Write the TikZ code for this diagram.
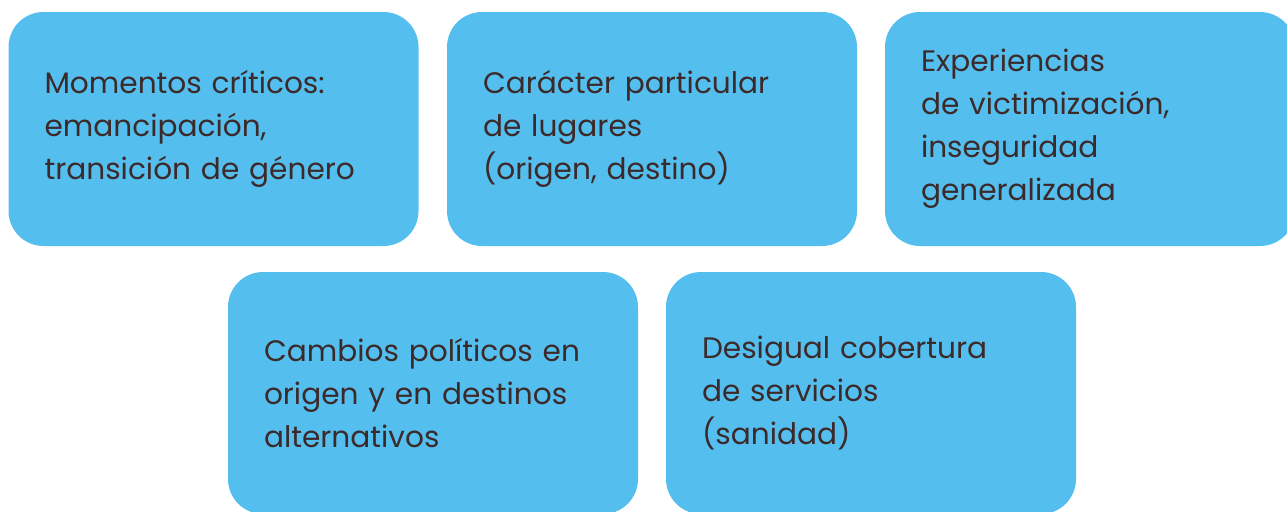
\documentclass[tikz,border=0pt]{standalone}
\usepackage{fontspec}
\setmainfont{Poppins}
\usepackage{tikz}

\definecolor{cajaazul}{RGB}{84,191,239}
\definecolor{textomarron}{RGB}{60,42,42}

\tikzset{
  caja/.style={draw=none, fill=cajaazul, rounded corners=26.25pt,
    minimum width=307.5pt, inner xsep=27pt, inner ysep=0pt,
    text width=253.5pt, align=left, text=textomarron,
    font=\fontsize{22.2}{32.25}\selectfont},
  cajaalta/.style={caja, minimum height=175.5pt},
  cajabaja/.style={caja, minimum height=181.5pt}
}

\begin{document}
\begin{tikzpicture}[x=0.75pt,y=0.75pt,yscale=-1,xscale=1]
\useasboundingbox (0,0) rectangle (1287,511);

%Shape: Rounded Rect, upper row
\node [cajaalta] (momentos) at (213.5,129) {Momentos críticos:\\emancipación,\\transición de género};
\node [cajaalta] (caracter) at (652,129) {Carácter particular\\de lugares\\(origen, destino)};
\node [cajaalta] (experiencias) at (1090,129) {Experiencias\\de victimización,\\inseguridad\\generalizada};

%Shape: Rounded Rect, lower row
\node [cajabaja] (cambios) at (433,393) {Cambios políticos en\\origen y en destinos\\alternativos};
\node [cajabaja] (desigual) at (871,393) {Desigual cobertura\\de servicios\\(sanidad)};

\end{tikzpicture}
\end{document}
